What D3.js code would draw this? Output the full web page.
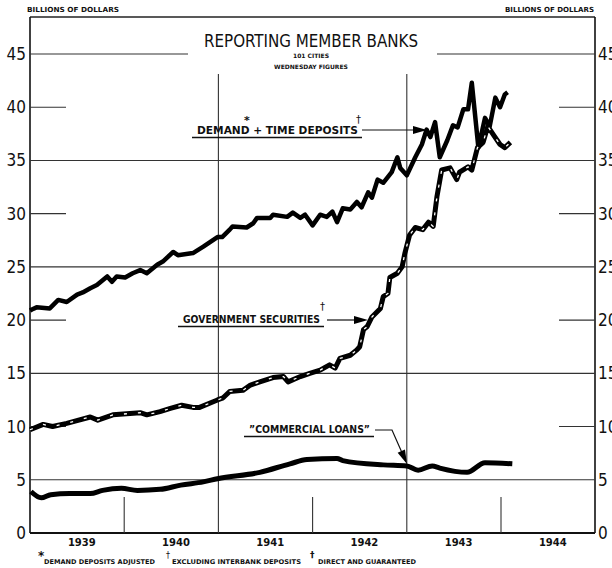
<!DOCTYPE html>
<html>
<head>
<meta charset="utf-8">
<script src="https://cdn.jsdelivr.net/npm/d3@7"></script>
<style>
  body { margin: 0; background: #fff; }
  svg { display: block; }
  text { fill: #111; }
</style>
</head>
<body>
<svg width="612" height="568"></svg>
<script>
let width = 612;
let height = 568;
let margin = ({top: 17, right: 17, bottom: 35, left: 30});

// Demand + time deposits (billions)
let depYears = [1939.00, 1939.02, 1939.07, 1939.21, 1939.30, 1939.39, 1939.50, 1939.56, 1939.64, 1939.71,
  1939.82, 1939.87, 1939.92, 1940.01, 1940.09, 1940.17, 1940.24, 1940.35, 1940.41, 1940.52,
  1940.57, 1940.73, 1940.84, 1940.99, 1941.04, 1941.12, 1941.15, 1941.30, 1941.37, 1941.41,
  1941.55, 1941.58, 1941.73, 1941.79, 1941.87, 1941.92, 1942.00, 1942.08, 1942.15, 1942.21,
  1942.26, 1942.32, 1942.40, 1942.47, 1942.52, 1942.59, 1942.63, 1942.69, 1942.75, 1942.84,
  1942.90, 1942.93, 1943.00, 1943.09, 1943.16, 1943.21, 1943.25, 1943.30, 1943.35, 1943.43,
  1943.49, 1943.54, 1943.60, 1943.65, 1943.69, 1943.76, 1943.83, 1943.88, 1943.94, 1943.99,
  1944.04, 1944.07];
let depValues = [20.9, 21.0, 21.2, 21.1, 21.9, 21.7, 22.4, 22.6, 23.0, 23.3,
  24.1, 23.6, 24.1, 24.0, 24.4, 24.7, 24.4, 25.2, 25.5, 26.4,
  26.1, 26.3, 26.9, 27.8, 27.8, 28.5, 28.8, 28.7, 29.1, 29.6,
  29.6, 29.9, 29.7, 30.1, 29.6, 29.9, 28.9, 29.9, 29.7, 30.2,
  29.2, 30.5, 30.4, 31.1, 30.6, 32.0, 31.5, 33.2, 32.9, 33.9,
  35.3, 34.3, 33.6, 35.3, 36.5, 37.9, 37.2, 38.6, 35.3, 36.9,
  38.3, 38.1, 39.8, 39.8, 42.3, 36.2, 39.0, 38.2, 40.9, 40.0,
  41.2, 41.4];

// Government securities
let govYears = [1939.00, 1939.14, 1939.24, 1939.39, 1939.64, 1939.72, 1939.88, 1940.17, 1940.24, 1940.38,
  1940.49, 1940.61, 1940.73, 1940.80, 1940.99, 1941.05, 1941.12, 1941.26, 1941.34, 1941.44,
  1941.58, 1941.69, 1941.74, 1941.87, 1941.97, 1942.08, 1942.18, 1942.24, 1942.29, 1942.40,
  1942.47, 1942.50, 1942.54, 1942.58, 1942.63, 1942.72, 1942.75, 1942.80, 1942.82, 1942.90,
  1942.95, 1942.98, 1943.03, 1943.09, 1943.17, 1943.23, 1943.28, 1943.32, 1943.37, 1943.46,
  1943.53, 1943.56, 1943.65, 1943.69, 1943.75, 1943.81, 1943.86, 1943.92, 1943.99, 1944.04,
  1944.10];
let govValues = [9.7, 10.2, 10.0, 10.3, 10.9, 10.6, 11.1, 11.3, 11.1, 11.4,
  11.7, 12.0, 11.8, 11.8, 12.5, 12.7, 13.3, 13.4, 13.9, 14.2,
  14.6, 14.7, 14.2, 14.7, 15.0, 15.3, 15.8, 15.5, 16.4, 16.7,
  17.2, 17.5, 19.1, 19.4, 20.3, 21.1, 22.2, 22.5, 24.0, 24.4,
  25.0, 26.3, 28.0, 28.7, 28.5, 29.2, 28.8, 31.6, 34.1, 34.3,
  33.2, 33.9, 34.4, 34.1, 36.2, 36.7, 38.2, 37.4, 36.5, 36.2,
  36.7];

// Commercial loans
let loanYears = [1939.01, 1939.12, 1939.22, 1939.42, 1939.64, 1939.77, 1939.97, 1940.14, 1940.38, 1940.60,
  1940.84, 1940.99, 1941.44, 1941.76, 1941.94, 1942.26, 1942.32, 1942.75, 1943.00, 1943.12,
  1943.27, 1943.35, 1943.64, 1943.83, 1944.12];
let loanValues = [3.9, 3.3, 3.6, 3.7, 3.7, 4.0, 4.2, 4.0, 4.1, 4.5,
  4.8, 5.1, 5.7, 6.5, 6.9, 7.0, 6.8, 6.4, 6.3, 5.9,
  6.3, 6.1, 5.7, 6.6, 6.5];

let yTicks = [0, 5, 10, 15, 20, 25, 30, 35, 40, 45];
let fullLines = [5, 15, 25, 35];
let shortLines = [10, 20, 30, 40];
let yearLabels = [1939, 1940, 1941, 1942, 1943, 1944];
let yearGrid = [1941, 1943];
let yearTicks = [1940, 1942, 1944];

let x = d3.scaleLinear()
    .domain([1939, 1945])
    .range([margin.left, margin.left + 6 * 94.2]);

let y = d3.scaleLinear()
    .domain([0, 45])
    .range([533, 54]);

const svg = d3.select("svg")
    .attr("viewBox", [0, 0, width, height]);

let left = margin.left;
let right = width - margin.right;
let cond = "'DejaVu Sans Condensed', 'DejaVu Sans', sans-serif";
let small = "'DejaVu Sans', sans-serif";

// frame
svg.append("line").attr("x1", left).attr("x2", right).attr("y1", margin.top).attr("y2", margin.top)
    .attr("stroke", "#222").attr("stroke-width", 1.3);
svg.append("line").attr("x1", left).attr("x2", left).attr("y1", margin.top).attr("y2", y(0))
    .attr("stroke", "#111").attr("stroke-width", 1.6);
svg.append("line").attr("x1", right).attr("x2", right).attr("y1", margin.top).attr("y2", y(0))
    .attr("stroke", "#111").attr("stroke-width", 1.6);
svg.append("line").attr("x1", left).attr("x2", right).attr("y1", y(0)).attr("y2", y(0))
    .attr("stroke", "#111").attr("stroke-width", 2.2);

let grid = svg.append("g").attr("stroke", "#333").attr("stroke-width", 1.1);

grid.selectAll(".full").data(fullLines).join("line")
    .attr("x1", left).attr("x2", right)
    .attr("y1", d => y(d)).attr("y2", d => y(d));

grid.selectAll(".shortL").data(shortLines).join("line")
    .attr("x1", left).attr("x2", left + 36)
    .attr("y1", d => y(d)).attr("y2", d => y(d));

grid.selectAll(".shortR").data(shortLines).join("line")
    .attr("x1", right - 36).attr("x2", right)
    .attr("y1", d => y(d)).attr("y2", d => y(d));

// 45 line broken by the title
grid.append("line").attr("x1", left).attr("x2", 188).attr("y1", y(45)).attr("y2", y(45));
grid.append("line").attr("x1", 437).attr("x2", right).attr("y1", y(45)).attr("y2", y(45));

grid.selectAll(".vgrid").data(yearGrid).join("line")
    .attr("x1", d => x(d)).attr("x2", d => x(d))
    .attr("y1", 74).attr("y2", y(0));

grid.selectAll(".vtick").data(yearTicks).join("line")
    .attr("x1", d => x(d)).attr("x2", d => x(d))
    .attr("y1", y(0) - 36).attr("y2", y(0));

// y labels both sides
svg.append("g").selectAll("text").data(yTicks).join("text")
    .attr("x", left - 4).attr("y", d => y(d) + 6)
    .attr("text-anchor", "end")
    .attr("font-family", cond).attr("font-size", 17)
    .text(d => d);

svg.append("g").selectAll("text").data(yTicks).join("text")
    .attr("x", right + 3).attr("y", d => y(d) + 6)
    .attr("font-family", cond).attr("font-size", 17)
    .text(d => d);

// year labels
svg.append("g").selectAll("text").data(yearLabels).join("text")
    .attr("x", d => x(d + 0.55)).attr("y", 546)
    .attr("text-anchor", "middle")
    .attr("font-family", small).attr("font-size", 10).attr("font-weight", "bold")
    .text(d => d);

// units
svg.append("text").attr("x", 27).attr("y", 12)
    .attr("font-family", small).attr("font-size", 7).attr("font-weight", "bold")
    .attr("textLength", 92).attr("lengthAdjust", "spacingAndGlyphs")
    .text("BILLIONS OF DOLLARS");
svg.append("text").attr("x", 505).attr("y", 12)
    .attr("font-family", small).attr("font-size", 7).attr("font-weight", "bold")
    .attr("textLength", 89).attr("lengthAdjust", "spacingAndGlyphs")
    .text("BILLIONS OF DOLLARS");

// title
svg.append("text").attr("x", 311).attr("y", 47)
    .attr("text-anchor", "middle")
    .attr("font-family", cond).attr("font-size", 18)
    .attr("textLength", 214).attr("lengthAdjust", "spacingAndGlyphs")
    .text("REPORTING MEMBER BANKS");
svg.append("text").attr("x", 311).attr("y", 58)
    .attr("text-anchor", "middle")
    .attr("font-family", small).attr("font-size", 6).attr("font-weight", "bold")
    .text("101 CITIES");
svg.append("text").attr("x", 311).attr("y", 69)
    .attr("text-anchor", "middle")
    .attr("font-family", small).attr("font-size", 6).attr("font-weight", "bold")
    .text("WEDNESDAY FIGURES");

// series lines
let line = d3.line()
    .x(d => x(d[0]))
    .y(d => y(d[1]));

let dep = depYears.map((d, i) => [d, depValues[i]]);
let gov = govYears.map((d, i) => [d, govValues[i]]);
let loans = loanYears.map((d, i) => [d, loanValues[i]]);

svg.append("path").datum(dep)
    .attr("d", line)
    .attr("fill", "none").attr("stroke", "#000").attr("stroke-width", 4.5)
    .attr("stroke-linejoin", "round");

svg.append("path").datum(gov)
    .attr("d", line)
    .attr("fill", "none").attr("stroke", "#000").attr("stroke-width", 5)
    .attr("stroke-linejoin", "round");
svg.append("path").datum(gov)
    .attr("d", line)
    .attr("fill", "none").attr("stroke", "#fff").attr("stroke-width", 1.3)
    .attr("stroke-dasharray", "3,11")
    .attr("stroke-linejoin", "round");

svg.append("path").datum(loans)
    .attr("d", d3.line().curve(d3.curveMonotoneX).x(d => x(d[0])).y(d => y(d[1])))
    .attr("fill", "none").attr("stroke", "#000").attr("stroke-width", 5)
    .attr("stroke-linejoin", "round");

// annotations
let notes = svg.append("g");

function label(txt, x0, yb, len) {
    notes.append("text").attr("x", x0).attr("y", yb)
        .attr("font-family", small).attr("font-size", 10).attr("font-weight", "bold")
        .attr("textLength", len).attr("lengthAdjust", "spacingAndGlyphs")
        .text(txt);
    notes.append("line").attr("x1", x0 - 5).attr("x2", x0 + len + 4)
        .attr("y1", yb + 3.5).attr("y2", yb + 3.5)
        .attr("stroke", "#111").attr("stroke-width", 1.6);
}

function arrowHead(tx, ty, angle) {
    notes.append("path")
        .attr("d", "M0,0 L-14,-4 L-14,4 Z")
        .attr("transform", `translate(${tx},${ty}) rotate(${angle})`)
        .attr("fill", "#000");
}

label("DEMAND + TIME DEPOSITS", 197, 134, 161);
notes.append("text").attr("x", 244).attr("y", 124).attr("font-family", small)
    .attr("font-size", 11).attr("font-weight", "bold").text("*");
notes.append("text").attr("x", 356).attr("y", 123).attr("font-family", small)
    .attr("font-size", 10).text("†");
notes.append("line").attr("x1", 362).attr("x2", 414).attr("y1", 130).attr("y2", 130)
    .attr("stroke", "#111").attr("stroke-width", 1.2);
arrowHead(427, 130, 0);

label("GOVERNMENT SECURITIES", 183, 323, 137);
notes.append("text").attr("x", 320).attr("y", 310).attr("font-family", small)
    .attr("font-size", 10).text("†");
notes.append("line").attr("x1", 327).attr("x2", 356).attr("y1", 320).attr("y2", 320)
    .attr("stroke", "#111").attr("stroke-width", 1.2);
arrowHead(368, 320, 0);

label("\u201DCOMMERCIAL LOANS\u201D", 249, 433, 121);
notes.append("path")
    .attr("d", "M375,430 L392,430 L403,455")
    .attr("fill", "none").attr("stroke", "#111").attr("stroke-width", 1.2);
arrowHead(407, 464, 66);

// footnotes
let foot = svg.append("g").attr("font-family", small).attr("font-weight", "bold");
foot.append("text").attr("x", 38).attr("y", 560).attr("font-size", 12).text("*");
foot.append("text").attr("x", 44).attr("y", 564).attr("font-size", 6.5)
    .attr("textLength", 111).attr("lengthAdjust", "spacingAndGlyphs")
    .text("DEMAND DEPOSITS ADJUSTED");
foot.append("text").attr("x", 166).attr("y", 558).attr("font-size", 8).attr("font-weight", "normal").text("†");
foot.append("text").attr("x", 172).attr("y", 564).attr("font-size", 6.5)
    .attr("textLength", 129).attr("lengthAdjust", "spacingAndGlyphs")
    .text("EXCLUDING INTERBANK DEPOSITS");
foot.append("text").attr("x", 310).attr("y", 558).attr("font-size", 9).text("†");
foot.append("text").attr("x", 318).attr("y", 564).attr("font-size", 6.5)
    .attr("textLength", 98).attr("lengthAdjust", "spacingAndGlyphs")
    .text("DIRECT AND GUARANTEED");
</script>
</body>
</html>
